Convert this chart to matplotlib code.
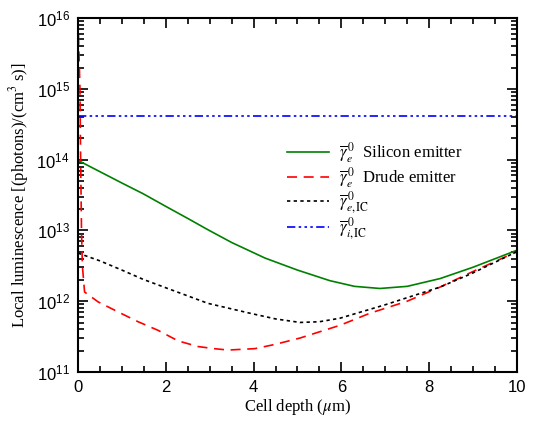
import numpy as np
import matplotlib
matplotlib.use("Agg")
import matplotlib.pyplot as plt
from matplotlib.ticker import FixedLocator, FuncFormatter, MultipleLocator, LogLocator, NullFormatter

plt.rcParams["mathtext.fontset"] = "stix"
plt.rcParams["font.family"] = "Liberation Serif"

# values (depth in um, luminescence as log10)
depth_si = [0.0, 0.5, 1.0, 1.48, 2.0, 2.5, 2.96, 3.5, 4.26, 5.0, 5.74, 6.3, 6.88, 7.5, 8.25, 9.0, 10.0]
log_si = [13.99, 13.83, 13.67, 13.52, 13.34, 13.17, 13.01, 12.83, 12.61, 12.44, 12.29, 12.21, 12.18,
          12.21, 12.32, 12.48, 12.72]

depth_drude = [0.0, 0.045, 0.06, 0.08, 0.1, 0.15, 0.46, 0.91, 1.37, 1.82, 2.28, 2.73, 3.1,
               3.42, 4.03, 4.49, 5.06, 5.97, 6.65, 7.5, 8.25, 9.0, 10.0]
log_drude = [16.0, 15.0, 14.0, 13.0, 12.5, 12.13, 11.99, 11.85, 11.71, 11.59, 11.44, 11.36, 11.33,
             11.31, 11.33, 11.39, 11.48, 11.66, 11.83, 12.0, 12.2, 12.42, 12.70]

depth_eic = [0.0, 0.5, 1.0, 1.48, 2.0, 2.96, 3.92, 4.5, 5.06, 5.5, 5.97, 7.0, 8.25, 9.0, 10.0]
log_eic = [12.68, 12.57, 12.44, 12.31, 12.19, 11.97, 11.83, 11.75, 11.70, 11.71, 11.76, 11.95, 12.2, 12.4, 12.70]

depth_iic = [0.0, 10.0]
log_iic = [14.616, 14.616]

fig = plt.figure(figsize=(5.39, 4.21), dpi=100)
ax = fig.add_axes([0.1447, 0.1164, 0.8143, 0.8406])

ax.plot(depth_si, 10 ** np.array(log_si), color="#008000", lw=1.2,
        label=r"$\overline{\gamma}_e^{\,0}$  Silicon emitter")
ax.plot(depth_drude, 10 ** np.array(log_drude), color="red", lw=1.2, ls=(0, (6, 4)),
        label=r"$\overline{\gamma}_e^{\,0}$  Drude emitter")
ax.plot(depth_eic, 10 ** np.array(log_eic), color="black", lw=1.2, ls=(0, (2, 2)),
        label=r"$\overline{\gamma}_{e,\mathrm{IC}}^{\,0}$")
ax.plot(depth_iic, 10 ** np.array(log_iic), color="blue", lw=1.2, ls=(0, (5, 2, 1.5, 2, 1.5, 2, 1.5, 2)),
        label=r"$\overline{\gamma}_{i,\mathrm{IC}}^{\,0}$")

ax.set_yscale("log")
ax.set_xlim(0, 10)
ax.set_ylim(1e11, 1e16)
ax.xaxis.set_major_locator(MultipleLocator(2))
ax.xaxis.set_minor_locator(MultipleLocator(0.5))
ax.yaxis.set_major_locator(FixedLocator([10.0 ** k for k in range(11, 17)]))
ax.yaxis.set_minor_locator(LogLocator(base=10, subs=np.arange(2, 10), numticks=20))
ax.yaxis.set_minor_formatter(NullFormatter())
ax.yaxis.set_major_formatter(FuncFormatter(lambda v, p: r"$\mathregular{10^{%d}}$" % round(np.log10(v))))
ax.tick_params(which="both", direction="in", top=True, right=True, width=1.2)
ax.tick_params(which="major", length=7, labelsize=12, pad=6)
ax.tick_params(which="minor", length=4)
for lab in ax.get_xticklabels() + ax.get_yticklabels():
    lab.set_family("Liberation Sans")
for s in ax.spines.values():
    s.set_linewidth(1.5)

ax.set_xlabel(r"Cell depth ($\mu$m)", fontsize=12, labelpad=1)
ax.set_ylabel(r"Local luminescence [(photons)/(cm$^3$ s)]", fontsize=12, labelpad=4)

ax.legend(loc="upper left", bbox_to_anchor=(0.476, 0.655), frameon=False, fontsize=12,
          handlelength=2.5, handletextpad=0.6, labelspacing=0.0, borderpad=0, borderaxespad=0)

fig.savefig("out.png", dpi=100)
